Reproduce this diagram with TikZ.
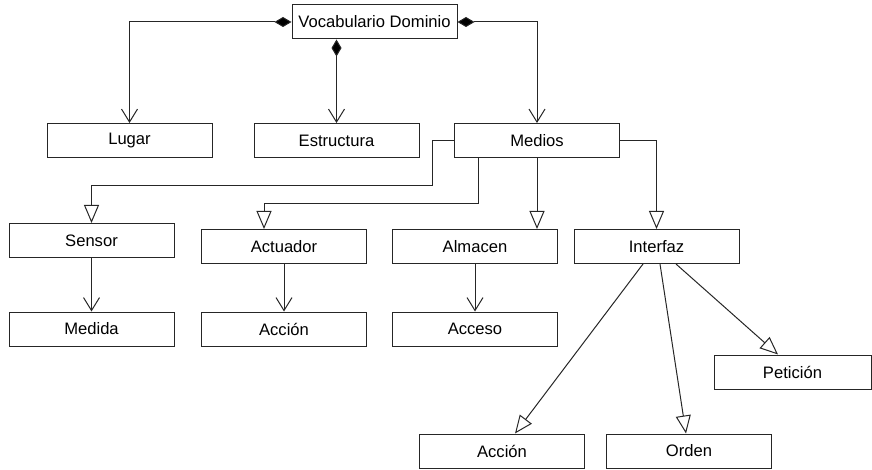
\documentclass[tikz,border=0pt]{standalone}
\usepackage{fontspec}
\setmainfont{Liberation Sans}
\usetikzlibrary{arrows.meta}
\begin{document}
\begin{tikzpicture}[x=1pt,y=-1pt,
  box/.style={draw=black!85, line width=1pt, fill=white, minimum width=165pt,
    minimum height=34pt, inner sep=0pt, font=\fontsize{16.6}{18}\selectfont},
  link/.style={draw=black!85, line width=1pt},
  comp/.style={link, {Diamond[length=17pt,width=10pt,fill=black]}-{Straight Barb[length=13pt,width=16pt]}},
  assoc/.style={link, -{Straight Barb[length=13pt,width=16pt]}},
  gen/.style={link, -{Triangle[open,length=18pt,width=15pt,fill=white]}}]
\useasboundingbox (0,0) rectangle (872,470);

% classes
\node[box] (voc) at (374.5,22) {Vocabulario Dominio};
\node[box] (lugar) at (129.5,140.5) {Lugar};
\node[box] (estr) at (336.5,140.5) {Estructura};
\node[box] (medios) at (537,140.5) {Medios};
\node[box] (sensor) at (91.5,240.5) {Sensor};
\node[box] (actuador) at (284,246.5) {Actuador};
\node[box] (almacen) at (475,246.5) {Almacen};
\node[box] (interfaz) at (656.5,246.5) {Interfaz};
\node[box] (medida) at (91.5,329) {Medida};
\node[box] (accion) at (284,329) {Acción};
\node[box] (acceso) at (475,329) {Acceso};
\node[box, minimum width=157pt] (peticion) at (792.5,372) {Petición};
\node[box] (accion2) at (502,451) {Acción};
\node[box] (orden) at (689,451) {Orden};

% bend points
\coordinate (s1) at (432,186);
\coordinate (a1) at (478,204);
\coordinate (a2) at (264,204);

% composition
\draw[comp] (voc.west) -| (lugar.north);
\draw[comp] (estr.north |- voc.south) -- (estr.north);
\draw[comp] (voc.east) -| (medios.north);

% specialisation of Medios
\draw[gen] (medios.west) -- (medios.west -| s1) -- (s1) -- (s1 -| sensor.north) -- (sensor.north);
\draw[gen] (medios.south -| a1) -- (a1) -- (a2) -- (a2 |- actuador.north);
\draw[gen] (medios.south) -- (medios.south |- almacen.north);
\draw[gen] (medios.east) -| (interfaz.north);

% associations
\draw[assoc] (sensor.south) -- (medida.north);
\draw[assoc] (actuador.south) -- (accion.north);
\draw[assoc] (almacen.south) -- (acceso.north);

% specialisation of Interfaz
\draw[gen] ([xshift=-13.5pt]interfaz.south) -- ([xshift=13pt]accion2.north);
\draw[gen] ([xshift=3.5pt]interfaz.south) -- ([xshift=-3pt]orden.north);
\draw[gen] ([xshift=19.5pt]interfaz.south) -- ([xshift=-14.5pt]peticion.north);
\end{tikzpicture}
\end{document}
